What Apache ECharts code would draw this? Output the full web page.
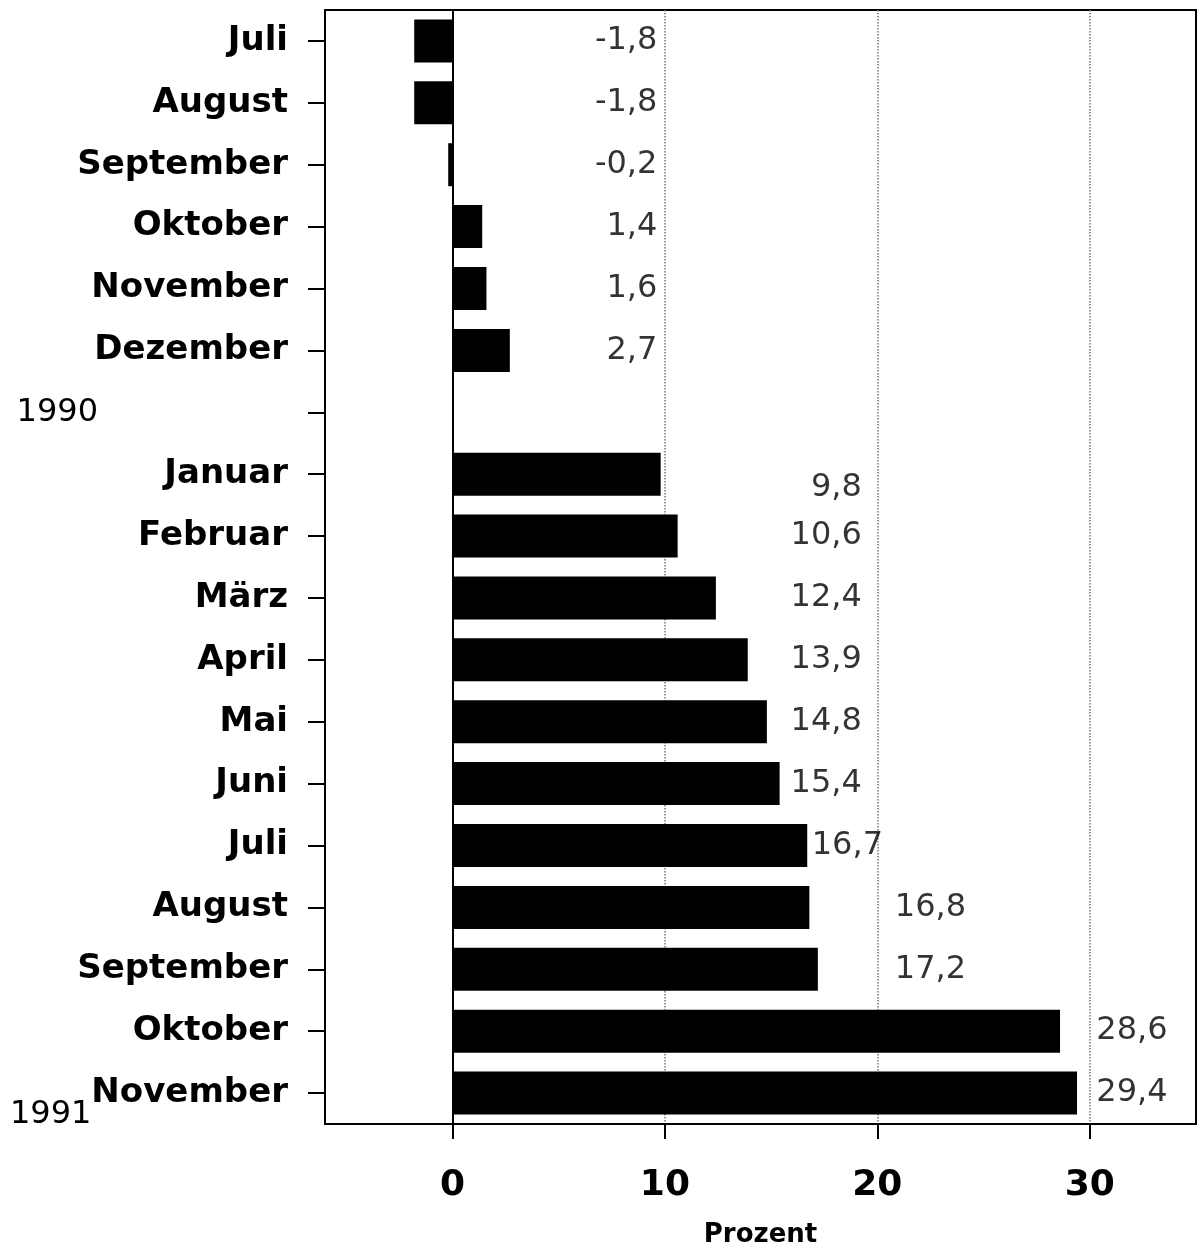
<!DOCTYPE html>
<html>
<head>
<meta charset="utf-8">
<title>Prozent</title>
<script src="https://cdn.jsdelivr.net/npm/echarts@6/dist/echarts.min.js"></script>
<style>
  html, body { margin: 0; padding: 0; background: #fff; }
  #chart { width: 1203px; height: 1242px; }
</style>
</head>
<body>
<div id="chart"></div>
<script>
// rows top to bottom; '1990' is the empty separator row
const categories = ["Juli", "August", "September", "Oktober", "November", "Dezember", "1990",
  "Januar", "Februar", "März", "April", "Mai", "Juni", "Juli", "August", "September", "Oktober", "November"];
const values = [-1.8, -1.8, -0.2, 1.4, 1.6, 2.7, null,
  9.8, 10.6, 12.4, 13.9, 14.8, 15.4, 16.7, 16.8, 17.2, 28.6, 29.4];
const xTicks = [0, 10, 20, 30];
const yearRow = "1990";
const yearEnd = "1991";

const fmt = v => (v < 0 ? "-" : "") + Math.abs(v).toFixed(1).replace(".", ",");

// where each value label sits (the original places them in columns)
function labelSpot(i) {
  if (i < 6) return { x: 10, pos: "left", dist: 7 };
  if (i < 13) return { x: 20, pos: "left", dist: 15 };
  if (i === 13) return { x: values[i], pos: "right", dist: 4 };
  if (i < 16) return { x: 20, pos: "right", dist: 17 };
  return { x: 30, pos: "right", dist: 6 };
}

const labelData = [];
values.forEach((v, i) => {
  if (v === null) return;
  const s = labelSpot(i);
  const item = { value: [s.x, i], idx: i, label: { position: s.pos, distance: s.dist } };
  if (i === 7) item.label.offset = [0, 14]; // 9,8 sits a bit low in the original
  labelData.push(item);
});

const chart = echarts.init(document.getElementById("chart"));
chart.setOption({
  animation: false,
  grid: {
    left: 325, right: 7, top: 10, bottom: 118,
    show: true, borderColor: "#000", borderWidth: 2,
    outerBoundsMode: "none"
  },
  xAxis: {
    type: "value",
    min: -6,
    max: 35,
    name: "Prozent",
    nameLocation: "middle",
    nameGap: 98,
    nameTextStyle: { fontFamily: "DejaVu Sans", fontWeight: "bold", fontSize: 26, color: "#000" },
    axisLine: { show: true, onZero: false, lineStyle: { color: "#000", width: 2 } },
    axisTick: { show: true, customValues: xTicks, length: 15, lineStyle: { color: "#000", width: 2 } },
    axisLabel: {
      customValues: xTicks, margin: 44,
      fontFamily: "DejaVu Sans", fontWeight: "bold", fontSize: 36, color: "#000"
    },
    splitLine: { show: true, lineStyle: { color: "#777", type: "dotted", width: 1.5 } }
  },
  yAxis: {
    type: "category",
    data: categories,
    inverse: true,
    axisLine: { show: true, onZero: false, lineStyle: { color: "#000", width: 2 } },
    axisTick: { show: true, alignWithLabel: true, length: 17, lineStyle: { color: "#000", width: 2 } },
    axisLabel: {
      interval: 0, margin: 37,
      fontFamily: "DejaVu Sans", fontWeight: "bold", fontSize: 34, color: "#000",
      formatter: (v, i) => (v === yearRow ? "{yr|" + v + "}" : v),
      rich: {
        yr: { fontFamily: "DejaVu Sans", fontWeight: "normal", fontSize: 32, color: "#000", padding: [0, 190, 0, 0] }
      }
    },
    splitLine: { show: false }
  },
  series: [
    {
      type: "bar",
      data: values,
      barWidth: 43,
      itemStyle: { color: "#000" },
      markLine: {
        silent: true,
        symbol: "none",
        label: { show: false },
        lineStyle: { color: "#000", type: "solid", width: 2 },
        data: [{ xAxis: 0 }]
      }
    },
    {
      type: "scatter",
      data: labelData,
      symbolSize: 1,
      itemStyle: { color: "rgba(0,0,0,0)" },
      silent: true,
      label: {
        show: true,
        fontFamily: "DejaVu Sans", fontSize: 32, color: "#000",
        formatter: p => fmt(values[p.data.idx])
      }
    }
  ],
  graphic: [
    {
      type: "text", left: 10, top: 1099,
      style: { text: yearEnd, font: '32px "DejaVu Sans"', fill: "#000" }
    }
  ]
});
</script>
</body>
</html>
